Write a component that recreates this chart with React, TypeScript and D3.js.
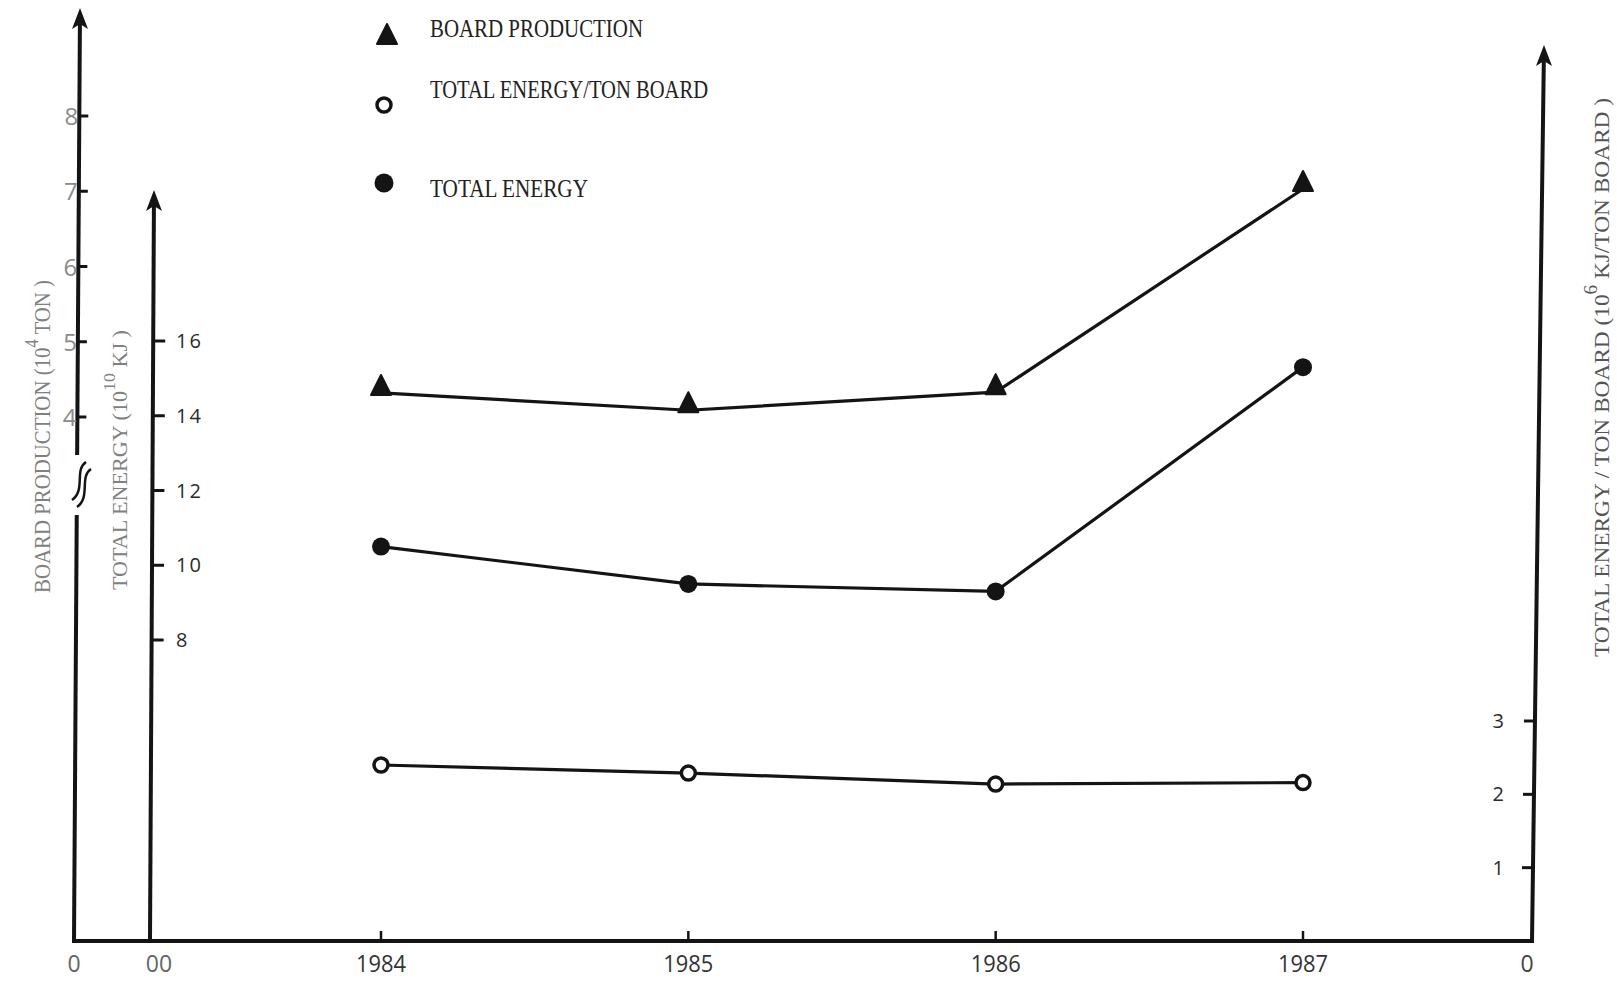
import React from 'react';
import * as d3 from 'd3';

// data
const years = [1984, 1985, 1986, 1987];
const boardProduction = [4.32, 4.09, 4.33, 7.03]; // 10^4 ton
const totalEnergy = [10.5, 9.5, 9.3, 15.3]; // 10^10 kJ
const energyPerTon = [2.4, 2.29, 2.14, 2.16]; // 10^6 kJ / ton board

const boardTicks = [4, 5, 6, 7, 8];
const energyTicks = [8, 10, 12, 14, 16];
const perTonTicks = [1, 2, 3];

const W = 1617;
const H = 981;
const baseY = 941;
const ink = '#141414';

const xScale = d3.scalePoint<number>().domain(years).range([381, 1303]);
const yBoard = d3.scaleLinear().domain([4, 8]).range([417, 116]);
const yEnergy = d3.scaleLinear().domain([0, 16]).range([939, 341]);
const yPerTon = d3.scaleLinear().domain([0, 3]).range([baseY, 721]);

// the hand drawn axes lean a little, x as a function of y
const leftAxisX = d3.scaleLinear().domain([10, baseY]).range([80, 74]);
const energyAxisX = d3.scaleLinear().domain([193, baseY]).range([154, 150]);
const rightAxisX = d3.scaleLinear().domain([47, baseY]).range([1544, 1532]);

const tri = (cx: number, cy: number) =>
  `M${cx},${cy - 12}L${cx + 10},${cy + 8}L${cx - 10},${cy + 8}Z`;

const arrowUp = (x: number, y: number) =>
  `M${x},${y}L${x + 8},${y + 21}L${x},${y + 16}L${x - 8},${y + 21}Z`;

const App = () => {
  const boardLine = d3
    .line<number>()
    .x((_, i) => xScale(years[i]) as number)
    .y((d) => yBoard(d));
  const energyLine = d3
    .line<number>()
    .x((_, i) => xScale(years[i]) as number)
    .y((d) => yEnergy(d));
  const perTonLine = d3
    .line<number>()
    .x((_, i) => xScale(years[i]) as number)
    .y((d) => yPerTon(d));

  const serif = "'Liberation Serif', 'DejaVu Serif', serif";
  const sans = "'Open Sans', 'DejaVu Sans', sans-serif";

  return (
    <svg
      width={W}
      height={H}
      style={{ position: 'absolute', left: 0, top: 0, background: '#fff' }}
    >
      <rect width={W} height={H} fill="#fff" />

      {/* legend */}
      <path d={tri(387, 36)} fill={ink} stroke={ink} strokeWidth={2} strokeLinejoin="round" />
      <circle cx={384} cy={105} r={7} fill="#fff" stroke={ink} strokeWidth={3.5} />
      <circle cx={384} cy={183} r={9.5} fill={ink} />
      <g fontFamily={serif} fontSize={25} fill="#222">
        <text x={430} y={37} textLength={213} lengthAdjust="spacingAndGlyphs">BOARD PRODUCTION</text>
        <text x={430} y={98} textLength={278} lengthAdjust="spacingAndGlyphs">TOTAL ENERGY/TON BOARD</text>
        <text x={430} y={197} textLength={158} lengthAdjust="spacingAndGlyphs">TOTAL ENERGY</text>
      </g>

      {/* left axis: board production, broken */}
      <line x1={leftAxisX(20)} y1={20} x2={leftAxisX(455)} y2={455} stroke={ink} strokeWidth={4} />
      <line x1={leftAxisX(515)} y1={515} x2={leftAxisX(baseY)} y2={baseY} stroke={ink} strokeWidth={4} />
      <path d={arrowUp(leftAxisX(10), 8)} fill={ink} />
      <path d="M86,462 C74,470 86,490 72,500" fill="none" stroke={ink} strokeWidth={2.5} />
      <path d="M91,469 C79,477 91,497 77,507" fill="none" stroke={ink} strokeWidth={2.5} />
      {boardTicks.map((t) => {
        const y = yBoard(t);
        const ax = leftAxisX(y);
        return (
          <g key={`b${t}`}>
            <line x1={ax} y1={y} x2={ax + 9} y2={y} stroke={ink} strokeWidth={3} />
            <text x={ax - 1} y={y + 9} textAnchor="end" fontFamily={sans} fontSize={24} fill="#8a8a8a">
              {t}
            </text>
          </g>
        );
      })}

      {/* energy axis */}
      <line x1={energyAxisX(200)} y1={200} x2={energyAxisX(baseY)} y2={baseY} stroke={ink} strokeWidth={4} />
      <path d={arrowUp(energyAxisX(193), 190)} fill={ink} />
      {energyTicks.map((t) => {
        const y = yEnergy(t);
        const ax = energyAxisX(y);
        return (
          <g key={`e${t}`}>
            <line x1={ax} y1={y} x2={ax + 12} y2={y} stroke={ink} strokeWidth={3} />
            <text x={176} y={y + 7} fontFamily={sans} fontSize={20} letterSpacing={2} fill="#2a2a2a">
              {t}
            </text>
          </g>
        );
      })}

      {/* right axis: energy per ton */}
      <line x1={rightAxisX(55)} y1={55} x2={rightAxisX(baseY)} y2={baseY} stroke={ink} strokeWidth={4} />
      <path d={arrowUp(rightAxisX(47), 45)} fill={ink} />
      {perTonTicks.map((t) => {
        const y = yPerTon(t);
        const ax = rightAxisX(y);
        return (
          <g key={`p${t}`}>
            <line x1={ax - 11} y1={y} x2={ax} y2={y} stroke={ink} strokeWidth={3} />
            <text x={1504} y={y + 7} textAnchor="end" fontFamily={sans} fontSize={20} fill="#2a2a2a">
              {t}
            </text>
          </g>
        );
      })}

      {/* x axis */}
      <line x1={72} y1={baseY} x2={rightAxisX(baseY) + 2} y2={baseY} stroke={ink} strokeWidth={4} />
      {years.map((yr) => {
        const x = xScale(yr) as number;
        return (
          <g key={`x${yr}`}>
            <line x1={x} y1={baseY - 10} x2={x} y2={baseY} stroke={ink} strokeWidth={2.5} />
            <text
              x={x - 25}
              y={972}
              fontFamily={sans}
              fontSize={24}
              fill="#333"
              textLength={50}
              lengthAdjust="spacingAndGlyphs"
            >
              {yr}
            </text>
          </g>
        );
      })}
      <g fontFamily={sans} fontSize={23} fill="#666">
        <text x={74} y={972} textAnchor="middle">0</text>
        <text x={159} y={972} textAnchor="middle">00</text>
        <text x={1527} y={972} textAnchor="middle" fill="#444">0</text>
      </g>

      {/* axis titles */}
      <text
        transform="translate(50,593) rotate(-90)"
        fontFamily={serif}
        fontSize={23}
        fill="#808080"
        textLength={313}
        lengthAdjust="spacingAndGlyphs"
      >
        BOARD PRODUCTION (10<tspan dy={-12} fontSize={18}>4</tspan>
        <tspan dy={12}> TON )</tspan>
      </text>
      <text
        transform="translate(127,590) rotate(-90)"
        fontFamily={serif}
        fontSize={21}
        fill="#808080"
        textLength={260}
        lengthAdjust="spacingAndGlyphs"
      >
        TOTAL ENERGY (10<tspan dy={-12} fontSize={17}>10</tspan>
        <tspan dy={12}> KJ )</tspan>
      </text>
      <text
        transform="translate(1609,657) rotate(-90)"
        fontFamily={serif}
        fontSize={22}
        fill="#555"
        textLength={559}
        lengthAdjust="spacingAndGlyphs"
      >
        TOTAL ENERGY / TON BOARD (10<tspan dy={-12} fontSize={18}>6</tspan>
        <tspan dy={12}> KJ/TON BOARD )</tspan>
      </text>

      {/* series */}
      <path d={boardLine(boardProduction) || ''} fill="none" stroke={ink} strokeWidth={3.2} />
      <path d={energyLine(totalEnergy) || ''} fill="none" stroke={ink} strokeWidth={3.2} />
      <path d={perTonLine(energyPerTon) || ''} fill="none" stroke={ink} strokeWidth={3.2} />

      {boardProduction.map((v, i) => (
        <path
          key={`bt${i}`}
          d={tri(xScale(years[i]) as number, yBoard(v) - 6)}
          fill={ink}
          stroke={ink}
          strokeWidth={2}
          strokeLinejoin="round"
        />
      ))}
      {totalEnergy.map((v, i) => (
        <circle key={`ec${i}`} cx={xScale(years[i]) as number} cy={yEnergy(v)} r={9} fill={ink} />
      ))}
      {energyPerTon.map((v, i) => (
        <circle
          key={`pc${i}`}
          cx={xScale(years[i]) as number}
          cy={yPerTon(v)}
          r={7}
          fill="#fff"
          stroke={ink}
          strokeWidth={3.5}
        />
      ))}
    </svg>
  );
};

export default App;
